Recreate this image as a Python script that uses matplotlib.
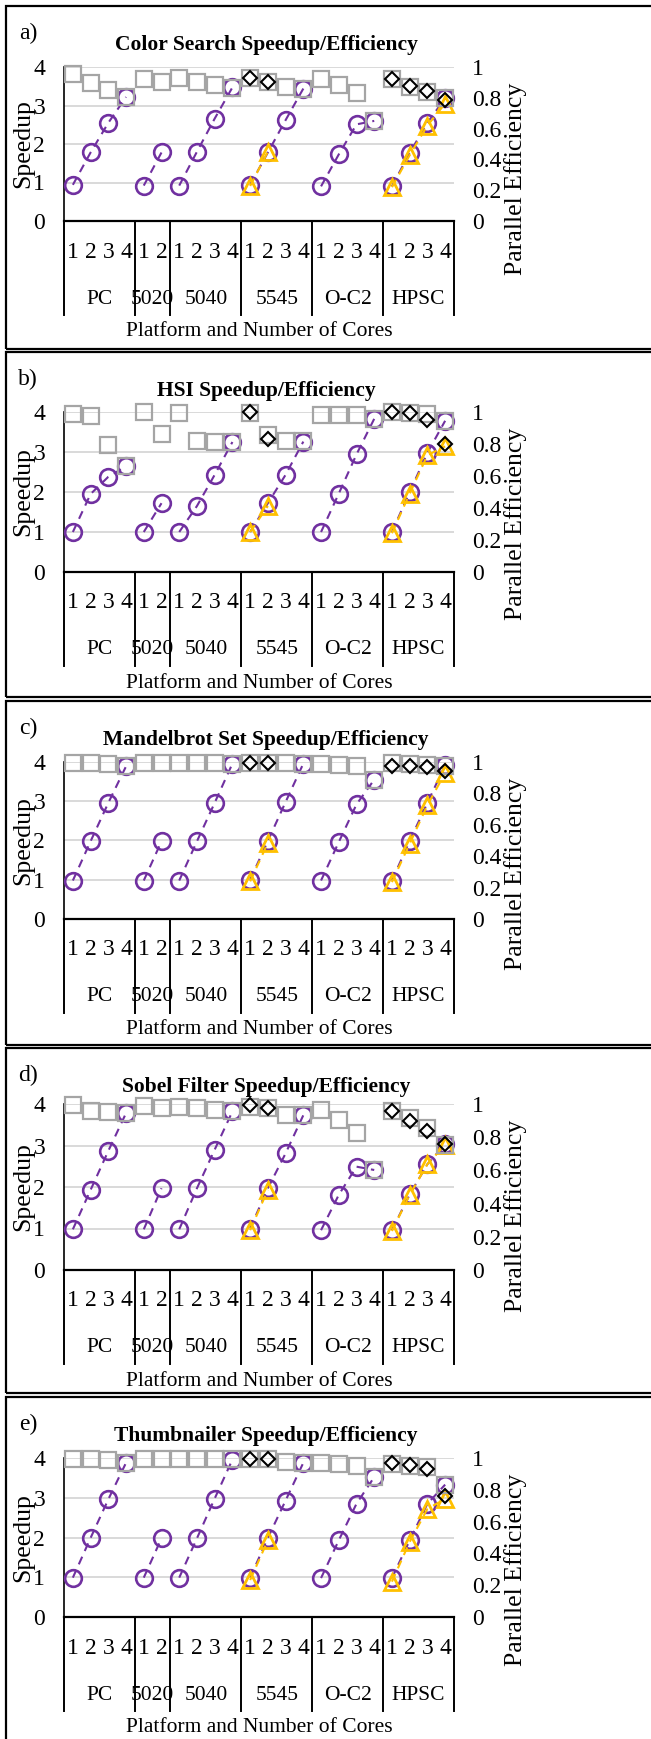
import matplotlib
matplotlib.use('Agg')
import matplotlib.pyplot as plt
import matplotlib.transforms as mtrans
from matplotlib.patches import Rectangle
import numpy as np

plt.rcParams['font.family'] = ['Liberation Serif', 'DejaVu Serif']

platforms = ['PC', '5020', '5040', '5545', 'O-C2', 'HPSC']
n_cores = [4, 2, 4, 4, 4, 4]

titles = ['Color Search Speedup/Efficiency', 'HSI Speedup/Efficiency',
          'Mandelbrot Set Speedup/Efficiency', 'Sobel Filter Speedup/Efficiency',
          'Thumbnailer Speedup/Efficiency']
letters = ['a)', 'b)', 'c)', 'd)', 'e)']

# speedup (purple circles) / efficiency (grey squares) per platform
color_spd = [[0.94, 1.78, 2.55, 3.22], [0.92, 1.78], [0.92, 1.80, 2.66, 3.47],
             [0.94, 1.78, 2.62, 3.44], [0.90, 1.73, 2.51, 2.60], [0.90, 1.77, 2.55, 3.19]]
color_eff = [[0.953, 0.897, 0.853, 0.806], [0.925, 0.903], [0.931, 0.903, 0.886, 0.866],
             [0.931, 0.903, 0.873, 0.86], [0.92, 0.881, 0.833, 0.649], [0.924, 0.870, 0.838, 0.799]]
# second series (orange triangles / black diamonds), only 5545 and HPSC
color_spd2 = [[], [], [], [0.91, 1.80], [], [0.88, 1.71, 2.48, 3.05]]
color_eff2 = [[], [], [], [0.931, 0.903], [], [0.924, 0.874, 0.842, 0.784]]

hsi_spd = [[1.0, 1.95, 2.38, 2.64], [1.0, 1.72], [1.0, 1.65, 2.43, 3.25],
           [1.0, 1.72, 2.43, 3.26], [1.0, 1.96, 2.94, 3.83], [1.0, 2.0, 2.98, 3.78]]
hsi_eff = [[0.99, 0.973, 0.792, 0.66], [1.0, 0.863], [0.994, 0.821, 0.8125, 0.8125],
           [0.994, 0.858, 0.817, 0.817], [0.983, 0.983, 0.983, 0.958], [1.0, 0.994, 0.985, 0.944]]
hsi_spd2 = [[], [], [], [1.0, 1.65], [], [0.97, 1.96, 2.92, 3.14]]
hsi_eff2 = [[], [], [], [0.998, 0.831], [], [1.0, 0.996, 0.952, 0.798]]

mandel_spd = [[0.98, 1.98, 2.96, 3.89], [0.98, 1.98], [0.98, 1.98, 2.96, 3.96],
              [1.0, 1.99, 2.98, 3.96], [0.98, 1.96, 2.92, 3.55], [0.98, 1.99, 2.96, 3.92]]
mandel_eff = [[0.994, 0.994, 0.989, 0.972], [0.994, 0.994], [0.994, 0.994, 0.994, 0.99],
              [0.994, 0.994, 0.994, 0.99], [0.989, 0.983, 0.975, 0.887], [0.994, 0.989, 0.979, 0.972]]
mandel_spd2 = [[], [], [], [0.96, 1.94], [], [0.94, 1.92, 2.9, 3.72]]
mandel_eff2 = [[], [], [], [0.994, 0.994], [], [0.972, 0.972, 0.968, 0.943]]

sobel_spd = [[0.98, 1.93, 2.87, 3.78], [0.98, 1.97], [0.98, 1.97, 2.90, 3.82],
             [1.0, 1.97, 2.81, 3.73], [0.96, 1.81, 2.49, 2.41], [0.96, 1.82, 2.55, 3.03]]
sobel_eff = [[0.992, 0.96, 0.952, 0.946], [0.99, 0.976], [0.98, 0.976, 0.966, 0.956],
             [0.98, 0.976, 0.935, 0.931], [0.966, 0.905, 0.825, 0.603], [0.956, 0.915, 0.855, 0.754]]
sobel_spd2 = [[], [], [], [0.96, 1.93], [], [0.94, 1.81, 2.55, 3.02]]
sobel_eff2 = [[], [], [], [0.992, 0.976], [], [0.96, 0.895, 0.839, 0.76]]

thumb_spd = [[0.99, 1.99, 2.96, 3.88], [0.99, 1.98], [0.99, 1.98, 2.98, 3.96],
             [0.99, 1.99, 2.93, 3.88], [0.98, 1.93, 2.85, 3.52], [0.98, 1.93, 2.85, 3.33]]
thumb_eff = [[0.996, 0.996, 0.985, 0.971], [0.996, 0.996], [0.996, 0.996, 0.992, 0.992],
             [0.992, 0.992, 0.975, 0.971], [0.971, 0.965, 0.95, 0.881], [0.965, 0.95, 0.944, 0.833]]
thumb_spd2 = [[], [], [], [0.93, 1.93], [], [0.89, 1.89, 2.72, 2.97]]
thumb_eff2 = [[], [], [], [0.992, 0.992], [], [0.971, 0.958, 0.929, 0.76]]

panels = [(color_spd, color_eff, color_spd2, color_eff2),
          (hsi_spd, hsi_eff, hsi_spd2, hsi_eff2),
          (mandel_spd, mandel_eff, mandel_spd2, mandel_eff2),
          (sobel_spd, sobel_eff, sobel_spd2, sobel_eff2),
          (thumb_spd, thumb_eff, thumb_spd2, thumb_eff2)]

# layout in pixels (figure is 651 x 1739 at 100 dpi)
W, H = 651, 1739
box_px = [(6, 349), (352, 697), (701, 1045), (1048, 1393), (1397, 1745)]
axes_px = [(67, 221), (412, 572), (762, 919), (1104, 1270), (1458, 1617)]
ax_left, ax_right = 64, 454

purple = '#7030A0'
orange = '#FFC000'
grey = '#A5A5A5'
fs = 16

fig = plt.figure(figsize=(W / 100, H / 100), dpi=100)

offsets = np.concatenate([[0], np.cumsum(n_cores)])
bounds = offsets - 0.5

for i in range(5):
    spd, eff, spd2, eff2 = panels[i]
    top, bot = box_px[i]
    fig.patches.append(Rectangle((6 / W, 1 - bot / H), (700 - 6) / W, (bot - top) / H,
                                 transform=fig.transFigure, fill=False,
                                 ec='black', lw=1.6))
    a_top, a_bot = axes_px[i]
    ah = a_bot - a_top
    ax = fig.add_axes([ax_left / W, 1 - a_bot / H, (ax_right - ax_left) / W, ah / H])
    ax2 = ax.twinx()

    ax.set_xlim(-0.5, sum(n_cores) - 0.5)
    ax.set_ylim(0, 4)
    ax2.set_ylim(0, 1)
    ax.set_yticks([0, 1, 2, 3, 4])
    ax.set_yticklabels(['0', '1', '2', '3', '4'])
    ax2.set_yticks([0, 0.2, 0.4, 0.6, 0.8, 1])
    ax2.set_yticklabels(['0', '0.2', '0.4', '0.6', '0.8', '1'])
    ax.tick_params(axis='y', length=0, pad=13.5, labelsize=fs + 1)
    ax2.tick_params(axis='y', length=0, pad=13, labelsize=fs + 1)
    ax.set_xticks([])
    for a in (ax, ax2):
        a.spines['top'].set_visible(False)
        a.spines['right'].set_visible(False)
    ax2.spines['left'].set_visible(False)
    ax2.spines['bottom'].set_visible(False)
    ax.spines['left'].set_linewidth(1.2)
    ax.spines['bottom'].set_linewidth(1.6)
    for yv in [1, 2, 3, 4]:
        ax.axhline(yv, color='#D9D9D9', lw=1.4, zorder=0)

    for g in range(len(platforms)):
        xs = offsets[g] + np.arange(n_cores[g])
        ax.plot(xs, spd[g], color=purple, ls=(0, (4, 3)), lw=1.5, marker='o', ms=12,
                mfc='none', mec=purple, mew=1.9, clip_on=False, zorder=3)
        ax2.plot(xs, eff[g], ls='none', marker='s', ms=11, mfc='none', mec=grey,
                 mew=1.6, clip_on=False, zorder=3)
        if spd2[g]:
            xs2 = offsets[g] + np.arange(len(spd2[g]))
            ax.plot(xs2, spd2[g], color=orange, ls=(0, (4, 3)), lw=1.5, marker='^', ms=12,
                    mfc='none', mec=orange, mew=2, clip_on=False, zorder=4)
        if eff2[g]:
            xs2 = offsets[g] + np.arange(len(eff2[g]))
            ax2.plot(xs2, eff2[g], ls='none', marker='D', ms=7.5, mfc='none', mec='black',
                     mew=1.5, clip_on=False, zorder=4)

    # category axis below the plot
    blend = mtrans.blended_transform_factory(ax.transData, ax.transAxes)
    for b in bounds:
        ax.plot([b, b], [0, -94 / ah], color='black', lw=1.4, transform=blend, clip_on=False)
    for g in range(len(platforms)):
        for c in range(n_cores[g]):
            ax.annotate(str(c + 1), xy=(offsets[g] + c, 0), xycoords=('data', 'axes fraction'),
                        xytext=(0, -31), textcoords='offset pixels', ha='center', va='center',
                        fontsize=fs + 1, annotation_clip=False)
        ax.annotate(platforms[g], xy=(offsets[g] + (n_cores[g] - 1) / 2, 0),
                    xycoords=('data', 'axes fraction'), xytext=(0, -78),
                    textcoords='offset pixels', ha='center', va='center', fontsize=fs - 0.5,
                    annotation_clip=False)
    ax.annotate('Platform and Number of Cores', xy=(0.5, 0), xycoords='axes fraction',
                xytext=(0, -111), textcoords='offset pixels', ha='center', va='center',
                fontsize=fs - 0.5, annotation_clip=False)

    ax.set_ylabel('Speedup', fontsize=18.5)
    ax.yaxis.set_label_coords((34 - ax_left) / (ax_right - ax_left), 0.5)
    ax2.set_ylabel('Parallel Efficiency', fontsize=18.5)
    ax2.yaxis.set_label_coords((504 - ax_left) / (ax_right - ax_left), (a_bot - (a_top + 112)) / ah)

    fig.text(266 / W, 1 - (top + 39) / H, titles[i], ha='center', va='center',
             fontsize=fs - 0.5, fontweight='bold')
    fig.text(28 / W, 1 - (top + 27) / H, letters[i], ha='center', va='center', fontsize=fs + 1)

fig.savefig('out.png', dpi=100)
